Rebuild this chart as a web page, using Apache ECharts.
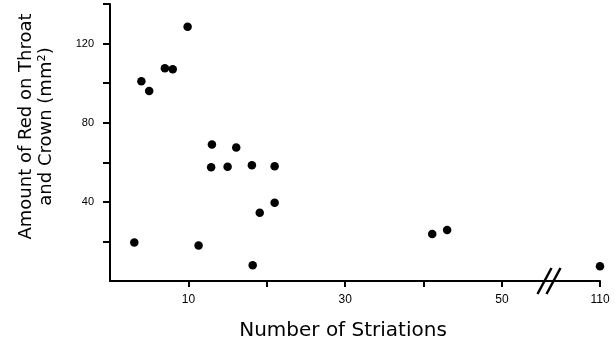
<!DOCTYPE html>
<html>
<head>
<meta charset="utf-8">
<script src="https://cdn.jsdelivr.net/npm/echarts@6/dist/echarts.min.js"></script>
<style>html,body{margin:0;padding:0;background:#fff;}#c{width:615px;height:340px;}</style>
</head>
<body>
<div id="c"></div>
<script>
// Data
const striations = [9.9, 4.0, 5.0, 7.0, 8.0, 13.0, 16.1, 12.9, 15.0, 18.1, 21.0, 21.0, 19.1, 3.1, 11.3, 18.2, 41.1, 43.0, 110];
const redArea    = [128.5, 101, 96, 107.5, 107, 69, 67.5, 57.5, 57.8, 58.5, 58, 39.5, 34.5, 19.5, 18, 8, 23.8, 25.8, 7.5];
const xTickValues = [10, 20, 30, 40, 50, 110];
const xLabelValues = [10, 30, 50, 110];
const yTickValues = [20, 40, 60, 80, 100, 120, 140];
const yLabelValues = [40, 80, 120];
const xBreak = [55, 105];

const points = striations.map((x, i) => [x, redArea[i]]);
const font = 'Liberation Sans, Arial, sans-serif';
const titleFont = 'DejaVu Sans, sans-serif';
const chart = echarts.init(document.getElementById('c'));
chart.setOption({
  animation: false,
  grid: {left: 110, right: 15, top: 4, bottom: 59, containLabel: false, outerBoundsMode: 'none'},
  xAxis: {
    type: 'value', min: 0, max: 110,
    breaks: [{start: xBreak[0], end: xBreak[1], gap: '4%'}],
    breakArea: {show: false},
    name: 'Number of Striations', nameLocation: 'middle', nameGap: 40,
    nameTextStyle: {fontFamily: titleFont, fontSize: 20, color: '#000', padding: [0, 24, 0, 0]},
    axisLine: {show: true, lineStyle: {color: '#000', width: 2}},
    axisTick: {show: true, customValues: xTickValues, length: 6, lineStyle: {color: '#000', width: 2}},
    axisLabel: {show: true, customValues: xLabelValues, margin: 13, fontFamily: font, fontSize: 12, color: '#000'},
    splitLine: {show: false}
  },
  yAxis: {
    type: 'value', min: 0, max: 140,
    name: 'Amount of Red on Throat\nand Crown (mm²)', nameLocation: 'middle', nameRotate: 90, nameGap: 54,
    nameTextStyle: {fontFamily: titleFont, fontSize: 18, color: '#000', lineHeight: 20, padding: [0, 0, 0, 32]},
    axisLine: {show: true, lineStyle: {color: '#000', width: 2}},
    axisTick: {show: true, customValues: yTickValues, length: 7, lineStyle: {color: '#000', width: 2}},
    axisLabel: {show: true, customValues: yLabelValues, margin: 16, fontFamily: font, fontSize: 11, color: '#000'},
    splitLine: {show: false}
  },
  series: [
    {type: 'scatter', data: points, symbol: 'circle', symbolSize: 8.5, itemStyle: {color: '#000', opacity: 1}},
    {
      type: 'custom', data: [[xBreak[0], xBreak[1]]], silent: true, z: 10,
      renderItem: function (params, api) {
        const a = api.coord([api.value(0), 0]);
        const b = api.coord([api.value(1), 0]);
        const mid = (a[0] + b[0]) / 2 - 2;
        const h = 13, s = 7, d = 4.5;
        const mk = (cx) => ({type: 'line', shape: {x1: cx - s, y1: a[1] + h, x2: cx + s, y2: a[1] - h}, style: {stroke: '#000', lineWidth: 2.5}});
        return {type: 'group', children: [
          {type: 'line', shape: {x1: a[0] - 2, y1: a[1], x2: b[0] + 2, y2: b[1]}, style: {stroke: '#000', lineWidth: 2}},
          mk(mid - d), mk(mid + d)
        ]};
      }
    }
  ]
});
</script>
</body>
</html>
